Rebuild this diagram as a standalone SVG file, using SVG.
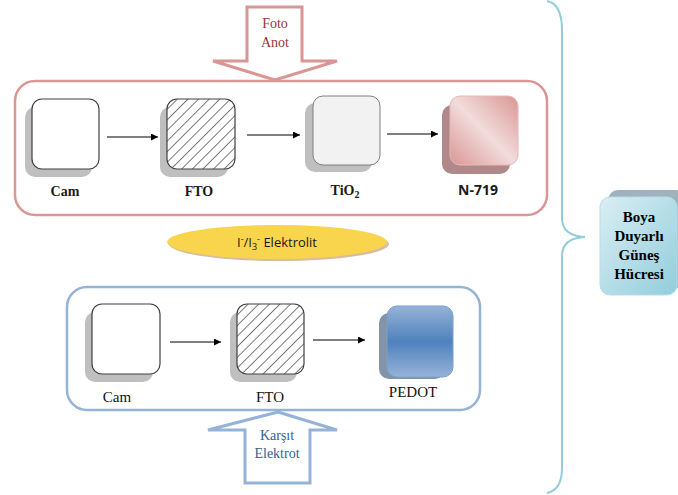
<svg xmlns="http://www.w3.org/2000/svg" width="678" height="495" viewBox="0 0 678 495">
<style>
.serif{font-family:"Liberation Serif","Times New Roman",serif}
.sans{font-family:"Open Sans","Liberation Sans",Arial,sans-serif}
.lbl{font-size:14px;text-anchor:middle;fill:#1a1a1a}
.lbl2{font-size:15px;text-anchor:middle;fill:#111}
.b{font-weight:bold}
.box{stroke:#404040;stroke-width:1.2}
.shadow{fill:#bfbfbf}
.conn{stroke:#000;stroke-width:1.2;fill:none;marker-end:url(#ah)}
</style>
<defs>
<marker id="ah" viewBox="0 0 10 10" refX="10" refY="5" markerWidth="7" markerHeight="7" markerUnits="userSpaceOnUse" orient="auto"><path d="M0,0 L10,5 L0,10 z" fill="#000"/></marker>
<pattern id="hatch" patternUnits="userSpaceOnUse" width="7.5" height="7.5" patternTransform="rotate(45)"><rect width="7.5" height="7.5" fill="#fff"/><line x1="0" y1="0" x2="0" y2="7.5" stroke="#222" stroke-width="1.2"/></pattern>
<linearGradient id="pink" x1="0" y1="1" x2="1" y2="0"><stop offset="0" stop-color="#d99694"/><stop offset="0.5" stop-color="#f2dcdb"/><stop offset="1" stop-color="#d99694"/></linearGradient>
<linearGradient id="blue" x1="0" y1="0" x2="0" y2="1"><stop offset="0" stop-color="#95b3d7"/><stop offset="0.5" stop-color="#4f81bd"/><stop offset="1" stop-color="#95b3d7"/></linearGradient>
<linearGradient id="cyan" x1="0" y1="0" x2="1" y2="1"><stop offset="0" stop-color="#daeef3"/><stop offset="1" stop-color="#92cddc"/></linearGradient>
</defs>

<g id="foto-anot">
<path d="M247,7 L302,7 L302,61 L337,61 L275,80 L213,61 L247,61 Z" fill="#fff" stroke="#d99694" stroke-width="3"/>
<text class="serif" x="275" y="28" font-size="14" text-anchor="middle" fill="#943634">Foto</text>
<text class="serif" x="275" y="47" font-size="14" text-anchor="middle" fill="#943634">Anot</text>
</g>

<g id="anot-group">
<rect x="15" y="81" width="532" height="134" rx="20" fill="#fff" stroke="#d99694" stroke-width="2.5"/>
</g>

<g id="cam1">
<rect class="shadow" x="25" y="107" width="67" height="70" rx="10"/>
<rect class="box" x="32" y="99" width="67" height="70" rx="10" fill="#fff"/>
<text class="serif lbl b" x="65" y="196">Cam</text>
</g>
<g id="fto1">
<rect class="shadow" x="160" y="107" width="68" height="70" rx="10"/>
<rect class="box" x="167" y="99" width="68" height="70" rx="10" fill="url(#hatch)"/>
<text class="serif lbl b" x="199" y="196">FTO</text>
</g>
<g id="tio2">
<rect class="shadow" x="305" y="103" width="67" height="69" rx="10"/>
<rect x="313" y="96" width="67" height="69" rx="10" fill="#f2f2f2" stroke="#7f7f7f" stroke-width="1"/>
<text class="serif lbl b" x="345" y="195">TiO<tspan font-size="10" dy="3">2</tspan></text>
</g>
<g id="n719">
<rect x="442" y="105" width="68" height="69" rx="10" fill="#b0888a"/>
<rect x="450" y="96" width="68" height="69" rx="10" fill="url(#pink)" stroke="#e6b9b8" stroke-width="1"/>
<text class="sans lbl b" x="478" y="195" fill="#333">N-719</text>
</g>

<g id="elektrolit">
<ellipse cx="279" cy="244" rx="110" ry="17" fill="#c09060" opacity="0.6"/>
<ellipse cx="277" cy="242" rx="110" ry="17" fill="#f9d44d"/>
<text class="sans" x="277" y="247" font-size="13" text-anchor="middle" fill="#1a1a1a">I<tspan font-size="9" dy="-5">-</tspan><tspan dy="5">/I</tspan><tspan font-size="9" dy="3">3</tspan><tspan font-size="9" dy="-8">-</tspan><tspan dy="5"> Elektrolit</tspan></text>
</g>

<g id="karsit-group">
<rect x="67" y="287" width="413" height="123" rx="20" fill="#fff" stroke="#95b3d7" stroke-width="2.5"/>
</g>

<g id="cam2">
<rect class="shadow" x="85" y="312" width="68" height="70" rx="10"/>
<rect class="box" x="92" y="304" width="68" height="70" rx="10" fill="#fff"/>
<text class="serif lbl2" x="117" y="402">Cam</text>
</g>
<g id="fto2">
<rect class="shadow" x="230" y="312" width="67" height="70" rx="10"/>
<rect class="box" x="237" y="304" width="67" height="70" rx="10" fill="url(#hatch)"/>
<text class="serif lbl2" x="270" y="402">FTO</text>
</g>
<g id="pedot">
<rect x="379" y="313" width="66" height="66" rx="10" fill="#8394a8"/>
<rect x="387" y="306" width="66" height="71" rx="10" fill="url(#blue)" stroke="#7da0cc" stroke-width="1"/>
<text class="serif lbl2" x="413" y="397">PEDOT</text>
</g>

<g id="karsit-elektrot">
<path d="M278,412 L337,430 L310,430 L310,483 L245,483 L245,430 L208,430 Z" fill="#fff" stroke="#95b3d7" stroke-width="3"/>
<text class="serif" x="277" y="440" font-size="14" text-anchor="middle" fill="#366092">Karşıt</text>
<text class="serif" x="277" y="458" font-size="14" text-anchor="middle" fill="#366092">Elektrot</text>
</g>

<g id="brace">
<path d="M547,1 Q562,4 562,30 L562,218 Q562,236 585,237 Q562,238 562,256 L562,468 Q562,490 547,493" fill="none" stroke="#92cddc" stroke-width="2"/>
</g>

<g id="dssc">
<rect x="608" y="190" width="78" height="98" rx="10" fill="#9fb2bd"/>
<rect x="600" y="197" width="77" height="98" rx="10" fill="url(#cyan)" stroke="#b7dde8" stroke-width="1"/>
<text class="serif b" x="639" y="222" font-size="15" text-anchor="middle" fill="#000">Boya</text>
<text class="serif b" x="639" y="241" font-size="15" text-anchor="middle" fill="#000">Duyarlı</text>
<text class="serif b" x="639" y="260" font-size="15" text-anchor="middle" fill="#000">Güneş</text>
<text class="serif b" x="639" y="279" font-size="15" text-anchor="middle" fill="#000">Hücresi</text>
</g>

<g id="connectors">
<line class="conn" x1="107" y1="137" x2="158" y2="137"/>
<line class="conn" x1="247" y1="135" x2="300" y2="135"/>
<line class="conn" x1="387" y1="134" x2="438" y2="134"/>
<line class="conn" x1="170" y1="342" x2="221" y2="342"/>
<line class="conn" x1="313" y1="340" x2="365" y2="340"/>
</g>
</svg>
